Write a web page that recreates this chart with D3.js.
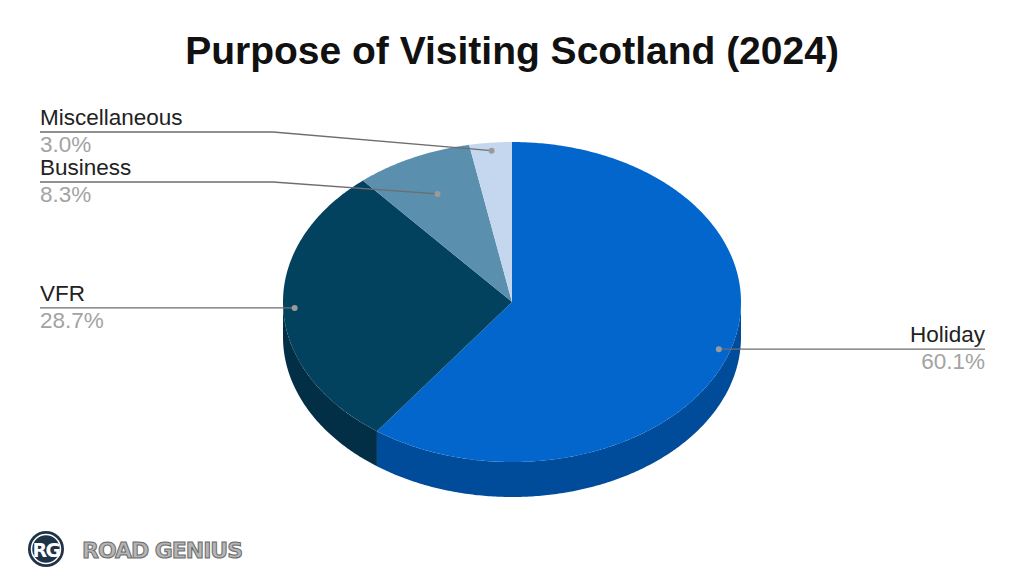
<!DOCTYPE html>
<html><head><meta charset="utf-8">
<script src="https://cdn.jsdelivr.net/npm/d3@7"></script>
<style>body{margin:0;background:#fff}svg{display:block}</style>
</head><body>
<svg id="c" width="1024" height="582"></svg>
<script>
const categories = ["Holiday", "VFR", "Business", "Miscellaneous"];
const values = [60.1, 28.7, 8.3, 3.0];
const labels = ["60.1%", "28.7%", "8.3%", "3.0%"];
const topColors = ["#0266cc", "#03425e", "#5a8fae", "#c4d7ee"];
const sideColors = ["#014c9a", "#022f45", "#3f6d88", "#98afc9"];

const svg = d3.select("#c");
const cx = 512, cy = 302, rx = 229, ry = 160, depth = 35;
const sx = d3.scaleLinear().domain([-1, 1]).range([cx - rx, cx + rx]);
const sy = d3.scaleLinear().domain([-1, 1]).range([cy - ry, cy + ry]);
const pt = (a, f = 1, dz = 0) => [sx(Math.sin(a) * f), sy(-Math.cos(a) * f) + dz];

const pie = d3.pie().sort(null).value(d => d)(values);
const line = d3.line();
const samp = (a, b) => { const n = Math.max(2, Math.ceil(Math.abs(b - a) / 0.01)); return d3.range(n + 1).map(i => a + (b - a) * i / n); };

// side walls (front half: PI/2 .. 3PI/2)
pie.forEach((p, i) => {
  const a = Math.max(p.startAngle, Math.PI / 2), b = Math.min(p.endAngle, 3 * Math.PI / 2);
  if (b <= a) return;
  const top = samp(a, b).map(t => pt(t));
  const bot = samp(b, a).map(t => pt(t, 1, depth));
  svg.append("path").attr("d", line(top.concat(bot)) + "Z").attr("fill", sideColors[i]);
});
// top faces
pie.forEach((p, i) => {
  const pts = [[cx, cy]].concat(samp(p.startAngle, p.endAngle).map(t => pt(t)));
  svg.append("path").attr("d", line(pts) + "Z").attr("fill", topColors[i]);
});

// title
svg.append("text").attr("x", 512).attr("y", 64).attr("text-anchor", "middle")
  .attr("font-family", "Liberation Sans, Arial, sans-serif").attr("font-weight", "bold")
  .attr("font-size", 39).attr("fill", "#111").text("Purpose of Visiting Scotland (2024)");

const labelLayout = [
  { f: 0.95, y: 350, ex: null, tx: 985, anchor: "end" },
  { f: 0.95, y: 308, ex: null, tx: 40, anchor: "start" },
  { f: 0.75, y: 182, ex: 273, tx: 40, anchor: "start" },
  { f: 0.95, y: 132, ex: 273, tx: 40, anchor: "start" }
];
const fontF = "Liberation Sans, Arial, sans-serif";
pie.forEach((p, i) => {
  const L = labelLayout[i];
  const mid = (p.startAngle + p.endAngle) / 2;
  const d = pt(mid, L.f);
  let pts;
  if (L.ex === null) pts = [d, [L.tx, d[1]]];
  else pts = [d, [L.ex, L.y], [L.tx, L.y]];
  const ly = L.ex === null ? d[1] : L.y;
  svg.append("path").attr("d", line(pts)).attr("fill", "none").attr("stroke", "#6e6e6e").attr("stroke-width", 1.3);
  svg.append("circle").attr("cx", d[0]).attr("cy", d[1]).attr("r", 3).attr("fill", "#9a9a9a");
  svg.append("text").attr("x", L.tx).attr("y", ly - 7).attr("text-anchor", L.anchor)
    .attr("font-family", fontF).attr("font-size", 22.5).attr("fill", "#222").text(categories[i]);
  svg.append("text").attr("x", L.tx).attr("y", ly + 20).attr("text-anchor", L.anchor)
    .attr("font-family", fontF).attr("font-size", 22.5).attr("fill", "#a3a3a3").text(labels[i]);
});

// logo
const lg = svg.append("g");
lg.append("circle").attr("cx", 46).attr("cy", 549).attr("r", 18).attr("fill", "#1f3346");
lg.append("circle").attr("cx", 46).attr("cy", 549).attr("r", 14.5).attr("fill", "none").attr("stroke", "#fff").attr("stroke-width", 1.5);
lg.append("text").attr("x", 46).attr("y", 557).attr("text-anchor", "middle").attr("font-family", "DejaVu Sans, sans-serif")
  .attr("font-weight", "bold").attr("font-size", 19).attr("letter-spacing", -1.5).attr("fill", "#fff").text("RG");
lg.append("text").attr("x", 82).attr("y", 558).attr("font-family", "DejaVu Sans, sans-serif").attr("font-weight", "bold")
  .attr("font-size", 22).attr("textLength", 161).attr("fill", "#b5b5b5").attr("stroke", "#6a6a6a").attr("stroke-width", 1).text("ROAD GENIUS");
</script>
</body></html>
